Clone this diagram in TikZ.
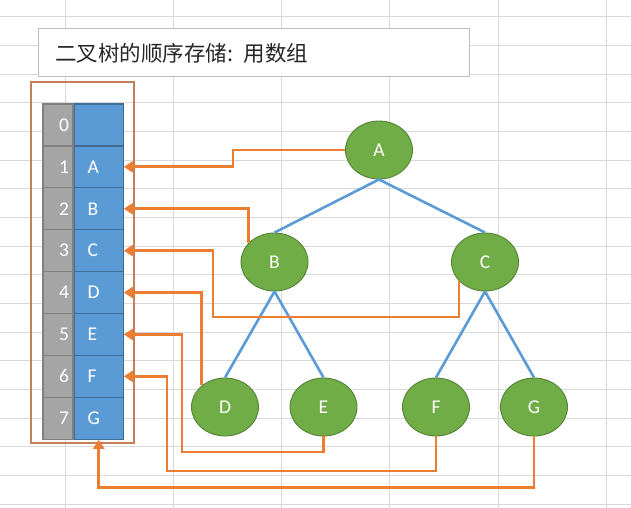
\documentclass[tikz,border=0pt]{standalone}
\usepackage{fontspec}
\setmainfont{Carlito}
\newfontfamily\cjk{Noto Sans CJK SC}
\usepackage{xcolor}
\usetikzlibrary{arrows.meta, positioning, shapes}

\definecolor{gridgray}{RGB}{217,217,217}
\definecolor{framebrown}{RGB}{197,128,88}
\definecolor{idxgray}{RGB}{165,165,165}
\definecolor{cellblue}{RGB}{91,155,213}
\definecolor{leafgreen}{RGB}{112,173,71}
\definecolor{linkorange}{RGB}{237,125,49}

\begin{document}
\begin{tikzpicture}[x=1pt, y=-1pt,
  every node/.style={text=white, font=\fontsize{19.5}{22}\selectfont},
  gridline/.style={draw=gridgray, line width=1pt},
  title/.style={draw=black!25, fill=white, line width=1pt, minimum width=431pt, minimum height=48pt, text width=397pt, inner xsep=17pt, align=left, text=black!85, font=\cjk\fontsize{21.5}{25}\selectfont},
  idx/.style={draw=black!50, fill=idxgray, line width=1.2pt, minimum height=41.9pt, text width=22pt, inner xsep=4pt, inner ysep=0pt, align=right},
  val/.style={draw=cellblue!70!black, fill=cellblue, line width=1.2pt, minimum height=41.9pt, text width=22pt, inner xsep=13.5pt, inner ysep=0pt, align=left},
  tree/.style={ellipse, draw=leafgreen!75!black, fill=leafgreen, line width=0.9pt, minimum width=67pt, minimum height=58pt, inner sep=0pt},
  branch/.style={draw=cellblue, line width=2.6pt},
  link/.style={draw=linkorange, line width=2.8pt, -{Triangle[length=9pt, width=11pt]}}]
\useasboundingbox (0,0) rectangle (631,508);

% Grid
\foreach \k in {0,...,5}
  \draw[gridline] ({65+108.3*\k},0) -- ({65+108.3*\k},508);
\foreach \k in {0,...,17}
  \draw[gridline] (0,{17+28.65*\k}) -- (631,{17+28.65*\k});

% Nodes
\node[title] (title) at (253.5,53) {二叉树的顺序存储: 用数组};

\draw[framebrown, line width=1.8pt] (31,82) rectangle (134,443);

\foreach \i/\t in {0/{},1/A,2/B,3/C,4/D,5/E,6/F,7/G} {
  \node[idx] (g\i) at (58,{124.95+41.9*\i}) {\i};
  \node[val, right=0pt of g\i] (v\i) {\t};
}

\node[tree] (A) at (379,150) {A};
\node[tree] (B) at (274.5,262) {B};
\node[tree] (C) at (485,262) {C};
\node[tree] (D) at (225,407) {D};
\node[tree] (E) at (323.5,407) {E};
\node[tree] (F) at (436,407) {F};
\node[tree] (G) at (534,407) {G};

% Branches
\draw[branch] (A.south) -- (B.north);
\draw[branch] (A.south) -- (C.north);
\draw[branch] (B.south) -- (D.north);
\draw[branch] (B.south) -- (E.north);
\draw[branch] (C.south) -- (F.north);
\draw[branch] (C.south) -- (G.north);

% Arrows
\draw[link] (A.west) -- (233,150) |- (v1.east);
\draw[link] (B.143) |- (v2.east);
\draw[link] (C.216) |- (213,317) |- (v3.east);
\draw[link] (D.137) |- (v4.east);
\draw[link] (E.south) |- (182,452) |- (v5.east);
\draw[link] (F.south) |- (167,471) |- (v6.east);
\draw[link] (G.south) -- ++(0,51) -| (v7.south);

\end{tikzpicture}
\end{document}
